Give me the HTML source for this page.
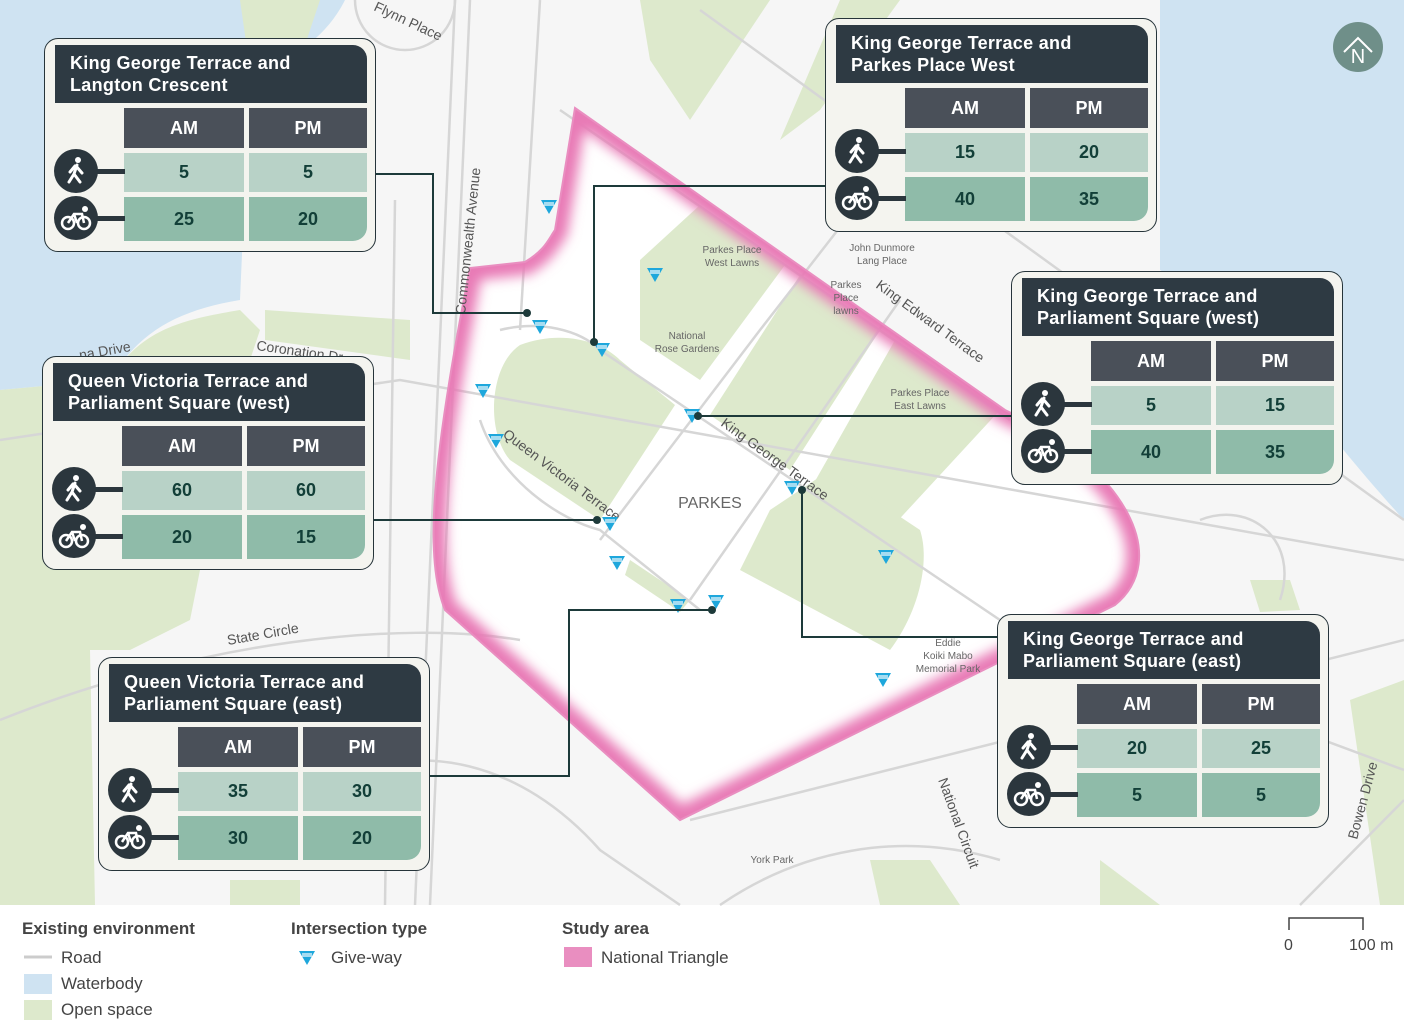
<!DOCTYPE html>
<html><head><meta charset="utf-8"><style>
*{margin:0;padding:0;box-sizing:border-box}
body{width:1404px;height:1033px;background:#fff;font-family:"Liberation Sans",sans-serif;position:relative;overflow:hidden}
.box{position:absolute;width:332px;height:214px;border:1.5px solid #26343a;border-radius:14px;background:#f4f4ef}
.hd{position:absolute;left:10px;top:6px;width:312px;height:58px;background:#2e3a43;border-radius:0 14px 0 0;color:#fff;font-weight:bold;font-size:18px;line-height:22px;padding:7px 0 0 15px;letter-spacing:.3px}
.c{position:absolute;text-align:center;font-weight:bold;font-size:18px;color:#123f38}
.th{background:#4a5059;color:#fff;height:40px;line-height:40px;top:69px}
.w{background:#b8d2c7;height:39px;line-height:39px;top:114px}
.b{background:#8fbba9;height:44px;line-height:44px;top:158px}
.a{left:79px;width:120px}.p{left:204px;width:118px}
.p.b{border-radius:0 0 14px 0}
.ic{position:absolute;left:9px;width:44px;height:44px;border-radius:50%;background:#2b363d}
.ln{position:absolute;left:50px;width:30px;height:5px;background:#2b363d}
.lg{position:absolute;font-size:17px;color:#444}
.lh{position:absolute;font-size:17px;font-weight:bold;color:#444}
</style></head><body>
<svg width="1404" height="1033" style="position:absolute;left:0;top:0">
<defs>
<filter id="bl"><feGaussianBlur stdDeviation="6"/></filter>
<g id="gw"><path d="M-8,-6 L8,-6 L0,8 Z" fill="#1ea7dc"/><rect x="-5" y="-4" width="10" height="4" fill="#fff" opacity=".6"/></g>
<path id="tri" d="M575,108 L1005,410 C1130,470 1170,560 1115,605 L680,820 L445,610 C425,560 430,470 470,268 L525,262 C545,250 548,240 555,230 Z"/>
<clipPath id="tc"><use href="#tri"/></clipPath>
</defs>
<rect width="1404" height="905" fill="#f6f6f6"/>
<path d="M0,0 L345,0 C330,30 300,60 250,70 L240,300 C180,310 140,330 110,380 L0,390 Z" fill="#cfe3f2"/>
<path d="M1160,0 L1404,0 L1404,520 C1350,460 1300,400 1250,320 L1160,270 Z" fill="#cfe3f2"/>
<use href="#tri" fill="#fff"/>
<path d="M0,390 L110,380 C140,330 180,320 240,310 L260,330 L230,420 L190,620 L130,650 L0,650 Z" fill="#dde9cc"/>
<path d="M265,310 L410,320 L410,360 L265,340 Z" fill="#dde9cc"/>
<path d="M0,650 L90,650 L95,905 L0,905 Z" fill="#dde9cc"/>
<path d="M240,0 L320,0 L300,60 L250,70 Z" fill="#dde9cc"/>
<path d="M840,0 L900,0 L820,110 L780,140 Z" fill="#dde9cc"/>
<path d="M640,0 L770,0 L690,120 L650,60 Z" fill="#dde9cc"/>
<path d="M1350,700 L1404,680 L1404,905 L1380,905 Z" fill="#dde9cc"/>
<path d="M1250,580 L1290,580 L1300,610 L1260,612 Z" fill="#dde9cc"/>
<path d="M1100,860 L1160,905 L1100,905 Z" fill="#dde9cc"/>
<path d="M870,860 L930,860 L960,905 L880,905Z" fill="#dde9cc"/>
<path d="M230,880 L300,880 L300,905 L230,905Z" fill="#dde9cc"/>
<path d="M640,260 L700,205 L785,265 L700,380 L640,340 Z" fill="#dde9cc"/>
<path d="M800,275 L880,330 L790,470 L710,415 Z" fill="#dde9cc"/>
<path d="M895,340 L1000,410 L880,540 L810,490 Z" fill="#dde9cc"/>
<path d="M520,345 C560,330 600,340 620,360 L675,405 L600,520 L510,460 C485,430 490,365 520,345 Z" fill="#dde9cc"/>
<path d="M770,510 L830,470 L920,530 C930,560 920,610 890,650 L740,570 Z" fill="#dde9cc"/>
<path d="M630,560 L690,600 L680,612 L625,575 Z" fill="#dde9cc"/>
<g stroke="#d6d6d6" stroke-width="2.5" fill="none">
<path d="M470,0 L430,905"/><path d="M455,0 L415,905"/><path d="M395,200 L385,905"/>
<path d="M540,0 L520,330"/>
<path d="M500,330 C540,320 580,330 600,350 L1000,620 L1404,770"/>
<path d="M480,420 C500,480 560,520 600,530 L700,610"/>
<path d="M560,110 L1010,420"/><path d="M700,10 L1404,520"/>
<path d="M0,440 L400,380 L1404,560"/>
<path d="M0,720 C200,640 400,620 520,640"/>
<path d="M330,780 C420,740 520,760 600,850 L680,905"/>
<path d="M690,820 L1404,640"/>
<path d="M720,905 C800,850 900,830 1000,860"/>
<path d="M600,540 L760,330 L900,150"/><path d="M690,600 L900,300"/>
<path d="M1300,905 L1404,800"/><path d="M1200,520 C1250,500 1300,540 1280,600"/>
<circle cx="405" cy="0" r="50"/>
</g>
<g clip-path="url(#tc)"><use href="#tri" fill="none" stroke="#e87ab6" stroke-width="26" filter="url(#bl)"/></g>
<use href="#tri" fill="none" stroke="#e98ec0" stroke-width="2"/>
<g font-family="Liberation Sans,sans-serif" fill="#666" font-size="10" text-anchor="middle">
<text x="732" y="253">Parkes Place</text><text x="732" y="266">West Lawns</text>
<text x="882" y="251">John Dunmore</text><text x="882" y="264">Lang Place</text>
<text x="846" y="288">Parkes</text><text x="846" y="301">Place</text><text x="846" y="314">lawns</text>
<text x="687" y="339">National</text><text x="687" y="352">Rose Gardens</text>
<text x="920" y="396">Parkes Place</text><text x="920" y="409">East Lawns</text>
<text x="948" y="646">Eddie</text><text x="948" y="659">Koiki Mabo</text><text x="948" y="672">Memorial Park</text>
<text x="772" y="863">York Park</text>
<text x="710" y="508" font-size="16">PARKES</text>
</g>
<g font-family="Liberation Sans,sans-serif" fill="#555" font-size="14">
<text transform="translate(720,425) rotate(36)">King George Terrace</text>
<text transform="translate(502,436) rotate(37)">Queen Victoria Terrace</text>
<text transform="translate(875,287) rotate(36)">King Edward Terrace</text>
<text transform="translate(465,315) rotate(-84)">Commonwealth Avenue</text>
<text transform="translate(228,645) rotate(-10)">State Circle</text>
<text transform="translate(256,350) rotate(8)">Coronation Dr</text>
<text transform="translate(80,360) rotate(-10)">na Drive</text>
<text transform="translate(373,10) rotate(25)">Flynn Place</text>
<text transform="translate(938,780) rotate(70)">National Circuit</text>
<text transform="translate(1357,840) rotate(-75)">Bowen Drive</text>
</g>
<use href="#gw" x="549" y="206"/><use href="#gw" x="655" y="274"/><use href="#gw" x="540" y="326"/>
<use href="#gw" x="602" y="349"/><use href="#gw" x="483" y="390"/><use href="#gw" x="496" y="440"/>
<use href="#gw" x="692" y="415"/><use href="#gw" x="792" y="487"/><use href="#gw" x="610" y="523"/>
<use href="#gw" x="617" y="562"/><use href="#gw" x="678" y="605"/><use href="#gw" x="716" y="601"/>
<use href="#gw" x="886" y="556"/><use href="#gw" x="883" y="679"/>
<g stroke="#1d3a3a" stroke-width="2" fill="none">
<path d="M376,174 H433 V313 H527"/><path d="M825,186 H594 V342"/>
<path d="M1011,416 H698"/><path d="M373,520 H597"/>
<path d="M430,776 H569 V610 H712"/><path d="M997,637 H802 V490"/>
</g>
<g fill="#1d3a3a"><circle cx="527" cy="313" r="4"/><circle cx="594" cy="342" r="4"/><circle cx="698" cy="416" r="4"/><circle cx="597" cy="520" r="4"/><circle cx="712" cy="610" r="4"/><circle cx="802" cy="490" r="4"/></g>
<circle cx="1358" cy="47" r="25" fill="#6f8f89"/>
<path d="M1344,52 L1358,38 L1372,52" stroke="#fff" stroke-width="2" fill="none"/>
<text x="1358" y="63" fill="#fff" font-size="20" text-anchor="middle" font-family="Liberation Sans,sans-serif">N</text>
<line x1="24" y1="957" x2="52" y2="957" stroke="#ccc" stroke-width="3"/>
<rect x="24" y="974" width="28" height="20" fill="#cfe3f2"/>
<rect x="24" y="1000" width="28" height="20" fill="#dde9cc"/>
<use href="#gw" x="307" y="957"/>
<rect x="564" y="947" width="28" height="20" fill="#e98ec0"/>
<path d="M1289,930 V918 H1363 V930" stroke="#444" stroke-width="1.5" fill="none"/>
</svg>
<div class="lh" style="left:22px;top:919px">Existing environment</div>
<div class="lg" style="left:61px;top:948px">Road</div>
<div class="lg" style="left:61px;top:974px">Waterbody</div>
<div class="lg" style="left:61px;top:1000px">Open space</div>
<div class="lh" style="left:291px;top:919px">Intersection type</div>
<div class="lg" style="left:331px;top:948px">Give-way</div>
<div class="lh" style="left:562px;top:919px">Study area</div>
<div class="lg" style="left:601px;top:948px">National Triangle</div>
<div class="lg" style="left:1284px;top:937px;font-size:16px">0</div>
<div class="lg" style="left:1349px;top:937px;font-size:16px">100 m</div>

<div class="box" style="left:44px;top:38px"><div class="hd">King George Terrace and<br>Langton Crescent</div>
<div class="c th a">AM</div><div class="c th p">PM</div>
<div class="c w a">5</div><div class="c w p">5</div><div class="c b a">25</div><div class="c b p">20</div>
<div class="ln" style="top:130px"></div><div class="ln" style="top:177px"></div>
<div class="ic" style="top:110px"><svg width="44" height="44"><circle cx="24" cy="11" r="3" fill="#fff"/><path d="M23,16 L20,25 L15,33 M20,25 L26,33 M22,17 L28,24 M21,17 L16,23" stroke="#fff" stroke-width="3" fill="none" stroke-linecap="round"/></svg></div>
<div class="ic" style="top:157px"><svg width="44" height="44"><circle cx="14" cy="27" r="6" stroke="#fff" stroke-width="2.5" fill="none"/><circle cx="30" cy="27" r="6" stroke="#fff" stroke-width="2.5" fill="none"/><path d="M14,27 L20,18 L28,18 L30,27 M20,18 L23,27" stroke="#fff" stroke-width="2.5" fill="none"/><circle cx="31" cy="13" r="3" fill="#fff"/></svg></div></div>

<div class="box" style="left:825px;top:18px"><div class="hd">King George Terrace and<br>Parkes Place West</div>
<div class="c th a">AM</div><div class="c th p">PM</div>
<div class="c w a">15</div><div class="c w p">20</div><div class="c b a">40</div><div class="c b p">35</div>
<div class="ln" style="top:130px"></div><div class="ln" style="top:177px"></div>
<div class="ic" style="top:110px"><svg width="44" height="44"><circle cx="24" cy="11" r="3" fill="#fff"/><path d="M23,16 L20,25 L15,33 M20,25 L26,33 M22,17 L28,24 M21,17 L16,23" stroke="#fff" stroke-width="3" fill="none" stroke-linecap="round"/></svg></div>
<div class="ic" style="top:157px"><svg width="44" height="44"><circle cx="14" cy="27" r="6" stroke="#fff" stroke-width="2.5" fill="none"/><circle cx="30" cy="27" r="6" stroke="#fff" stroke-width="2.5" fill="none"/><path d="M14,27 L20,18 L28,18 L30,27 M20,18 L23,27" stroke="#fff" stroke-width="2.5" fill="none"/><circle cx="31" cy="13" r="3" fill="#fff"/></svg></div></div>

<div class="box" style="left:1011px;top:271px"><div class="hd">King George Terrace and<br>Parliament Square (west)</div>
<div class="c th a">AM</div><div class="c th p">PM</div>
<div class="c w a">5</div><div class="c w p">15</div><div class="c b a">40</div><div class="c b p">35</div>
<div class="ln" style="top:130px"></div><div class="ln" style="top:177px"></div>
<div class="ic" style="top:110px"><svg width="44" height="44"><circle cx="24" cy="11" r="3" fill="#fff"/><path d="M23,16 L20,25 L15,33 M20,25 L26,33 M22,17 L28,24 M21,17 L16,23" stroke="#fff" stroke-width="3" fill="none" stroke-linecap="round"/></svg></div>
<div class="ic" style="top:157px"><svg width="44" height="44"><circle cx="14" cy="27" r="6" stroke="#fff" stroke-width="2.5" fill="none"/><circle cx="30" cy="27" r="6" stroke="#fff" stroke-width="2.5" fill="none"/><path d="M14,27 L20,18 L28,18 L30,27 M20,18 L23,27" stroke="#fff" stroke-width="2.5" fill="none"/><circle cx="31" cy="13" r="3" fill="#fff"/></svg></div></div>

<div class="box" style="left:42px;top:356px"><div class="hd">Queen Victoria Terrace and<br>Parliament Square (west)</div>
<div class="c th a">AM</div><div class="c th p">PM</div>
<div class="c w a">60</div><div class="c w p">60</div><div class="c b a">20</div><div class="c b p">15</div>
<div class="ln" style="top:130px"></div><div class="ln" style="top:177px"></div>
<div class="ic" style="top:110px"><svg width="44" height="44"><circle cx="24" cy="11" r="3" fill="#fff"/><path d="M23,16 L20,25 L15,33 M20,25 L26,33 M22,17 L28,24 M21,17 L16,23" stroke="#fff" stroke-width="3" fill="none" stroke-linecap="round"/></svg></div>
<div class="ic" style="top:157px"><svg width="44" height="44"><circle cx="14" cy="27" r="6" stroke="#fff" stroke-width="2.5" fill="none"/><circle cx="30" cy="27" r="6" stroke="#fff" stroke-width="2.5" fill="none"/><path d="M14,27 L20,18 L28,18 L30,27 M20,18 L23,27" stroke="#fff" stroke-width="2.5" fill="none"/><circle cx="31" cy="13" r="3" fill="#fff"/></svg></div></div>

<div class="box" style="left:98px;top:657px"><div class="hd">Queen Victoria Terrace and<br>Parliament Square (east)</div>
<div class="c th a">AM</div><div class="c th p">PM</div>
<div class="c w a">35</div><div class="c w p">30</div><div class="c b a">30</div><div class="c b p">20</div>
<div class="ln" style="top:130px"></div><div class="ln" style="top:177px"></div>
<div class="ic" style="top:110px"><svg width="44" height="44"><circle cx="24" cy="11" r="3" fill="#fff"/><path d="M23,16 L20,25 L15,33 M20,25 L26,33 M22,17 L28,24 M21,17 L16,23" stroke="#fff" stroke-width="3" fill="none" stroke-linecap="round"/></svg></div>
<div class="ic" style="top:157px"><svg width="44" height="44"><circle cx="14" cy="27" r="6" stroke="#fff" stroke-width="2.5" fill="none"/><circle cx="30" cy="27" r="6" stroke="#fff" stroke-width="2.5" fill="none"/><path d="M14,27 L20,18 L28,18 L30,27 M20,18 L23,27" stroke="#fff" stroke-width="2.5" fill="none"/><circle cx="31" cy="13" r="3" fill="#fff"/></svg></div></div>

<div class="box" style="left:997px;top:614px"><div class="hd">King George Terrace and<br>Parliament Square (east)</div>
<div class="c th a">AM</div><div class="c th p">PM</div>
<div class="c w a">20</div><div class="c w p">25</div><div class="c b a">5</div><div class="c b p">5</div>
<div class="ln" style="top:130px"></div><div class="ln" style="top:177px"></div>
<div class="ic" style="top:110px"><svg width="44" height="44"><circle cx="24" cy="11" r="3" fill="#fff"/><path d="M23,16 L20,25 L15,33 M20,25 L26,33 M22,17 L28,24 M21,17 L16,23" stroke="#fff" stroke-width="3" fill="none" stroke-linecap="round"/></svg></div>
<div class="ic" style="top:157px"><svg width="44" height="44"><circle cx="14" cy="27" r="6" stroke="#fff" stroke-width="2.5" fill="none"/><circle cx="30" cy="27" r="6" stroke="#fff" stroke-width="2.5" fill="none"/><path d="M14,27 L20,18 L28,18 L30,27 M20,18 L23,27" stroke="#fff" stroke-width="2.5" fill="none"/><circle cx="31" cy="13" r="3" fill="#fff"/></svg></div></div>
</body></html>
